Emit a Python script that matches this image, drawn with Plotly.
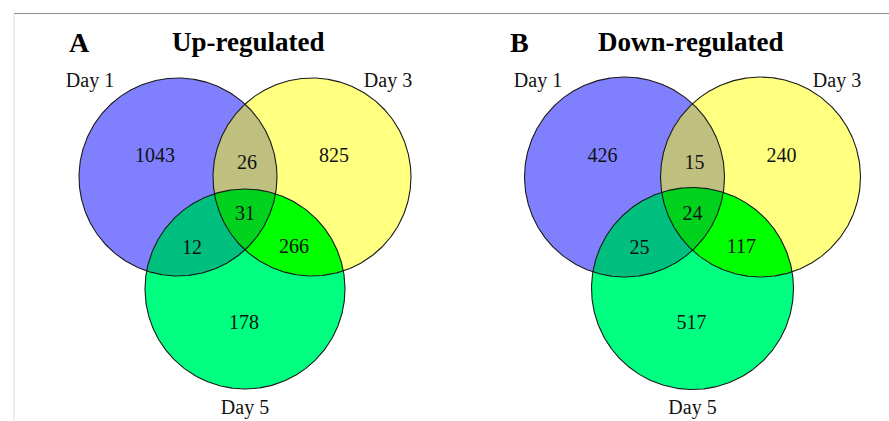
import numpy as np
import plotly.graph_objects as go

# Three-set overlaps of differentially expressed genes
set_names = ["Day 1", "Day 3", "Day 5"]
panel_letters = ["A", "B"]
panel_titles = ["Up-regulated", "Down-regulated"]

# Region order: Day1 only, Day3 only, Day5 only, 1&3, 1&5, 3&5, 1&3&5
region_keys = ["1", "3", "5", "13", "15", "35", "135"]
up_counts = [1043, 825, 178, 26, 12, 266, 31]
down_counts = [426, 240, 517, 15, 25, 117, 24]

# Fill colour of each region
region_colors = {
    "1": "#8080ff",
    "3": "#ffff80",
    "5": "#00ff80",
    "13": "#bfbf80",
    "15": "#00bf7f",
    "35": "#00ff00",
    "135": "#00d21e",
}

# Layout geometry (page pixels)
W, H = 889, 421
panels = [
    dict(cx=245.0, half_gap=67.0, r=99.0, r5=100.0, top_cy=177.0, low_cy=289.0,
         letter_dx=-166, title_dx=3, d1_dx=-155, d3_dx=143),
    dict(cx=692.5, half_gap=68.0, r=100.0, r5=101.0, top_cy=177.0, low_cy=288.5,
         letter_dx=-173.5, title_dx=-1.5, d1_dx=-154.5, d3_dx=144.5),
]
# Count label offsets from the panel centre (dx) and absolute y
label_pos = {
    "1": (-90, 157), "3": (89, 157), "5": (-1, 324),
    "13": (2, 164), "15": (-53, 249), "35": (49, 248), "135": (0, 215),
}

SERIF = "Liberation Serif"


def circles_of(p):
    return {
        "1": (p["cx"] - p["half_gap"], p["top_cy"], p["r"]),
        "3": (p["cx"] + p["half_gap"], p["top_cy"], p["r"]),
        "5": (p["cx"], p["low_cy"], p["r5"]),
    }


def ring(c, n=720):
    t = np.linspace(0, 2 * np.pi, n, endpoint=False)
    return c[0] + c[2] * np.cos(t), c[1] + c[2] * np.sin(t)


def intersection_poly(circ_list):
    """Outline of the intersection of several discs (convex)."""
    xs, ys = [], []
    for i, c in enumerate(circ_list):
        x, y = ring(c, 2000)
        keep = np.ones_like(x, dtype=bool)
        for j, o in enumerate(circ_list):
            if j != i:
                keep &= (x - o[0]) ** 2 + (y - o[1]) ** 2 <= o[2] ** 2 + 1e-6
        xs.append(x[keep])
        ys.append(y[keep])
    x = np.concatenate(xs)
    y = np.concatenate(ys)
    mx, my = x.mean(), y.mean()
    order = np.argsort(np.arctan2(y - my, x - mx))
    x, y = x[order], y[order]
    return np.append(x, x[0]), np.append(y, y[0])


fig = go.Figure()

for p, counts, letter, title in zip(panels, [up_counts, down_counts], panel_letters, panel_titles):
    circ = circles_of(p)
    # fills: whole discs, then pairwise lenses, then the triple overlap
    for key in region_keys:
        parts = [circ[k] for k in key]
        if len(parts) == 1:
            x, y = ring(parts[0])
            x, y = np.append(x, x[0]), np.append(y, y[0])
        else:
            x, y = intersection_poly(parts)
        fig.add_trace(go.Scatter(
            x=x, y=y, mode="lines", fill="toself",
            fillcolor=region_colors[key], line=dict(width=0),
            hoverinfo="skip", showlegend=False))
    # outlines
    for k in ["1", "3", "5"]:
        x, y = ring(circ[k])
        fig.add_trace(go.Scatter(
            x=np.append(x, x[0]), y=np.append(y, y[0]), mode="lines",
            line=dict(color="#1a1a1a", width=1.1),
            hoverinfo="skip", showlegend=False))
    # counts
    fig.add_trace(go.Scatter(
        x=[p["cx"] + label_pos[k][0] for k in region_keys],
        y=[label_pos[k][1] for k in region_keys],
        mode="text", text=[str(v) for v in counts],
        textfont=dict(family=SERIF, size=20, color="#111111"),
        hoverinfo="skip", showlegend=False))
    # set names
    fig.add_trace(go.Scatter(
        x=[p["cx"] + p["d1_dx"], p["cx"] + p["d3_dx"], p["cx"]],
        y=[82, 82, 409],
        mode="text", text=set_names,
        textfont=dict(family=SERIF, size=20, color="#111111"),
        hoverinfo="skip", showlegend=False))
    fig.add_annotation(x=p["cx"] + p["letter_dx"], y=42, text="<b>%s</b>" % letter,
                       showarrow=False, font=dict(family=SERIF, size=28, color="#000000"))
    fig.add_annotation(x=p["cx"] + p["title_dx"], y=42, text="<b>%s</b>" % title,
                       showarrow=False, font=dict(family=SERIF, size=27, color="#000000"))

# frame lines
fig.add_shape(type="line", x0=14, x1=W, y0=13.5, y1=13.5,
              line=dict(color="#8a8a8a", width=1.2))
fig.add_shape(type="line", x0=14, x1=14, y0=13.5, y1=H,
              line=dict(color="#dddddd", width=1))

fig.update_layout(
    width=W, height=H,
    margin=dict(l=0, r=0, t=0, b=0),
    paper_bgcolor="white", plot_bgcolor="white",
    xaxis=dict(range=[0, W], visible=False, fixedrange=True),
    yaxis=dict(range=[H, 0], visible=False, fixedrange=True),
)

fig.write_html("out.html")
